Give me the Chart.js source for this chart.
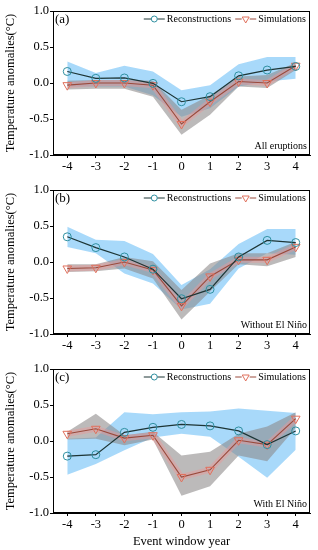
<!DOCTYPE html>
<html>
<head>
<meta charset="utf-8">
<script src="https://cdn.jsdelivr.net/npm/chart.js@4"></script>
<style>
    body { margin: 0; background: #fff; }
    .panel { position: absolute; left: 0; width: 318px; }
</style>
</head>
<body>
<div class="panel" style="top:0;height:180px"><canvas id="chartA"></canvas></div>
<div class="panel" style="top:180px;height:180px"><canvas id="chartB"></canvas></div>
<div class="panel" style="top:360px;height:190px"><canvas id="chartC"></canvas></div>
<script>
const yearLabels = ['-4', '-3', '-2', '-1', '0', '1', '2', '3', '4'];
const yTicks = [-1, -0.5, 0, 0.5, 1];

// (a) all eruptions
const reconA   = [0.16, 0.065, 0.07, -0.005, -0.26, -0.19, 0.10, 0.18, 0.23];
const simA     = [-0.03, 0.0, 0.0, -0.03, -0.57, -0.26, 0.02, 0.0, 0.24];
const reconUpA  = [0.30, 0.14, 0.24, 0.16, -0.10, -0.03, 0.26, 0.36, 0.36];
const reconLowA = [-0.05, -0.05, -0.05, -0.17, -0.47, -0.35, -0.05, 0.02, 0.06];
const simUpA    = [0.03, 0.04, 0.04, 0.03, -0.37, -0.17, 0.09, 0.11, 0.28];
const simLowA   = [-0.09, -0.08, -0.08, -0.19, -0.72, -0.44, -0.05, -0.07, 0.18];

// (b) without El Nino
const reconB   = [0.35, 0.20, 0.07, -0.10, -0.51, -0.38, 0.07, 0.30, 0.27];
const simB     = [-0.09, -0.08, 0.0, -0.11, -0.61, -0.20, 0.03, 0.03, 0.21];
const reconUpB  = [0.49, 0.31, 0.29, 0.11, -0.32, -0.10, 0.25, 0.46, 0.46];
const reconLowB = [0.21, 0.12, -0.16, -0.30, -0.66, -0.58, -0.09, 0.12, 0.10];
const simUpB    = [-0.03, -0.03, 0.07, 0.01, -0.39, -0.02, 0.12, 0.12, 0.28];
const simLowB   = [-0.14, -0.13, -0.09, -0.23, -0.80, -0.41, -0.03, -0.06, 0.07];

// (c) with El Nino
const reconC   = [-0.21, -0.19, 0.12, 0.19, 0.23, 0.21, 0.14, -0.05, 0.14];
const simC     = [0.10, 0.17, 0.04, 0.08, -0.50, -0.40, 0.01, -0.05, 0.31];
const reconUpC  = [0.03, 0.05, 0.40, 0.37, 0.40, 0.41, 0.45, 0.42, 0.39];
const reconLowC = [-0.47, -0.32, -0.13, 0.05, 0.10, 0.06, -0.22, -0.51, -0.12];
const simUpC    = [0.13, 0.38, 0.08, 0.13, -0.20, -0.15, 0.10, 0.20, 0.40];
const simLowC   = [0.02, 0.03, -0.06, 0.02, -0.76, -0.63, -0.20, -0.28, 0.18];

const serif = '"Liberation Serif", "Times New Roman", serif';
const reconLine = '#1d3535';
const reconMark = '#2e8fa0';
const simLine = '#9a4a3c';
const simMark = '#e0705c';
const blueBand = 'rgba(110, 192, 247, 0.6)';
const grayBand = 'rgba(140, 136, 136, 0.58)';

// legend symbol: short line, gap, hollow marker, gap, short line
function drawLegendSymbol(ctx, style, x0, y, color, markColor) {
    const len = 21, r = style === 'circle' ? 3 : 4;
    const cx = x0 + len / 2;
    ctx.strokeStyle = color;
    ctx.lineWidth = 1;
    ctx.beginPath();
    ctx.moveTo(x0, y); ctx.lineTo(cx - r, y);
    ctx.moveTo(cx + r, y); ctx.lineTo(x0 + len, y);
    ctx.stroke();
    ctx.strokeStyle = markColor;
    ctx.beginPath();
    if (style === 'circle') {
        ctx.arc(cx, y, r, 0, Math.PI * 2);
    } else {
        ctx.moveTo(cx - r * 0.866, y - r * 0.5);
        ctx.lineTo(cx + r * 0.866, y - r * 0.5);
        ctx.lineTo(cx, y + r);
        ctx.closePath();
    }
    ctx.stroke();
}

const panelDeco = {
    id: 'panelDeco',
    afterDatasetsDraw(chart, args, opts) {
        const { ctx, chartArea: a } = chart;
        ctx.save();
        ctx.strokeStyle = '#000';
        ctx.lineWidth = 1;
        ctx.strokeRect(Math.round(a.left) + 0.5, Math.round(a.top) + 0.5,
            Math.round(a.right - a.left) - 1, Math.round(a.bottom - a.top) - 1);

        ctx.fillStyle = '#000';
        ctx.textBaseline = 'middle';
        ctx.textAlign = 'left';
        ctx.font = '13px ' + serif;
        ctx.fillText(opts.letter, a.left + 2, a.top + 9);

        ctx.font = '10px ' + serif;
        ctx.textAlign = 'right';
        ctx.fillText(opts.note, a.right - 3, a.bottom - 9);

        // legend, laid out right to left
        const y = a.top + 8;
        const recText = chart.data.datasets[0].label;
        const simText = chart.data.datasets[1].label;
        let right = a.right - 4;
        const simW = ctx.measureText(simText).width;
        ctx.fillText(simText, right, y);
        let symStart = right - simW - 2 - 21;
        drawLegendSymbol(ctx, 'triangle', symStart, y, simLine, simMark);

        right = symStart - 4;
        const recW = ctx.measureText(recText).width;
        ctx.fillText(recText, right, y);
        symStart = right - recW - 2 - 21;
        drawLegendSymbol(ctx, 'circle', symStart, y, reconLine, reconMark);
        ctx.restore();
    }
};

function makePanel(id, recon, sim, reconUp, reconLow, simUp, simLow, letter, note, padTop, xHeight, showTitle) {
    new Chart(document.getElementById(id), {
        type: 'line',
        data: {
            labels: yearLabels,
            datasets: [
                {
                    label: 'Reconstructions',
                    data: recon,
                    borderColor: reconLine,
                    borderWidth: 1.2,
                    pointStyle: 'circle',
                    pointRadius: 4,
                    pointBorderColor: reconMark,
                    pointBackgroundColor: 'rgba(0,0,0,0)',
                    pointBorderWidth: 1,
                    fill: false
                },
                {
                    label: 'Simulations',
                    data: sim,
                    borderColor: simLine,
                    borderWidth: 1.1,
                    pointStyle: 'triangle',
                    rotation: 180,
                    pointRadius: 5,
                    pointBorderColor: simMark,
                    pointBackgroundColor: 'rgba(0,0,0,0)',
                    pointBorderWidth: 1,
                    fill: false
                },
                {
                    label: 'sim halo',
                    data: sim,
                    borderColor: 'rgba(235, 150, 150, 0.45)',
                    borderWidth: 6,
                    pointRadius: 0,
                    fill: false
                },
                {
                    label: 'sim upper',
                    data: simUp,
                    borderWidth: 0,
                    pointRadius: 0,
                    backgroundColor: grayBand,
                    fill: '+1'
                },
                {
                    label: 'sim lower',
                    data: simLow,
                    borderWidth: 0,
                    pointRadius: 0,
                    fill: false
                },
                {
                    label: 'recon upper',
                    data: reconUp,
                    borderWidth: 0,
                    pointRadius: 0,
                    backgroundColor: blueBand,
                    fill: '+1'
                },
                {
                    label: 'recon lower',
                    data: reconLow,
                    borderWidth: 0,
                    pointRadius: 0,
                    fill: false
                }
            ]
        },
        options: {
            responsive: true,
            maintainAspectRatio: false,
            animation: false,
            layout: { padding: { top: padTop, right: 8, left: 0, bottom: 0 } },
            plugins: {
                legend: { display: false },
                tooltip: { enabled: false },
                panelDeco: { letter: letter, note: note }
            },
            scales: {
                x: {
                    type: 'category',
                    offset: true,
                    grid: { drawOnChartArea: false, tickLength: 3, color: '#000', offset: false },
                    border: { color: '#000' },
                    ticks: { color: '#000', font: { family: serif, size: 12.5 }, padding: 1, maxRotation: 0 },
                    title: {
                        display: showTitle,
                        text: 'Event window year',
                        color: '#000',
                        font: { family: serif, size: 12.5 },
                        padding: { top: 0, bottom: 1 }
                    },
                    afterFit(s) { s.height = xHeight; }
                },
                y: {
                    min: -1,
                    max: 1,
                    afterBuildTicks(s) { s.ticks = yTicks.map(v => ({ value: v })); },
                    grid: { drawOnChartArea: false, tickLength: 3, color: '#000' },
                    border: { color: '#000' },
                    ticks: {
                        color: '#000',
                        font: { family: serif, size: 12.5 },
                        padding: 1,
                        callback: v => v.toFixed(1)
                    },
                    title: {
                        display: true,
                        text: 'Temperature anomalies(°C)',
                        color: '#000',
                        font: { family: serif, size: 12.5 },
                        padding: { top: 3, bottom: 0 }
                    },
                    afterFit(s) { s.width = 53; }
                }
            }
        },
        plugins: [panelDeco]
    });
}

makePanel('chartA', reconA, simA, reconUpA, reconLowA, simUpA, simLowA, '(a)', 'All eruptions', 11, 25, false);
makePanel('chartB', reconB, simB, reconUpB, reconLowB, simUpB, simLowB, '(b)', 'Without El Niño', 10, 26, false);
makePanel('chartC', reconC, simC, reconUpC, reconLowC, simUpC, simLowC, '(c)', 'With El Niño', 9, 37, true);
</script>
</body>
</html>
